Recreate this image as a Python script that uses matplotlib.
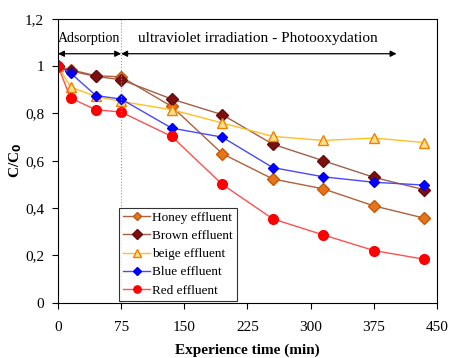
import matplotlib
matplotlib.use("Agg")
import matplotlib.pyplot as plt
from matplotlib.ticker import FuncFormatter

plt.rcParams['font.family'] = ['Liberation Serif', 'DejaVu Serif']

time = [0, 15, 45, 75, 135, 195, 255, 315, 375, 435]
honey = [1.0, 0.985, 0.96, 0.955, 0.83, 0.63, 0.523, 0.481, 0.409, 0.357]
brown = [1.0, 0.98, 0.957, 0.943, 0.861, 0.795, 0.67, 0.60, 0.53, 0.477]
beige = [1.0, 0.912, 0.872, 0.851, 0.816, 0.76, 0.703, 0.686, 0.696, 0.677]
blue = [1.0, 0.971, 0.876, 0.861, 0.738, 0.70, 0.571, 0.532, 0.509, 0.497]
red = [1.0, 0.865, 0.816, 0.806, 0.703, 0.50, 0.354, 0.286, 0.22, 0.183]

xticks = [0, 75, 150, 225, 300, 375, 450]
yticks = [0, 0.2, 0.4, 0.6, 0.8, 1.0, 1.2]

fig = plt.figure(figsize=(4.5, 3.58), dpi=100)
ax = fig.add_axes([58/450, 1 - 302.5/358, (437-58)/450, (302.5-19)/358])

ax.plot(time, honey, color='#B0603A', lw=1.0, marker='D', ms=6,
        mfc='#E8741A', mec='#C05A10', label='Honey effluent')
ax.plot(time, brown, color='#A0604A', lw=1.0, marker='D', ms=6.5,
        mfc='#7A1010', mec='#6A0A0A', label='Brown effluent')
ax.plot(time, beige, color='#FFC020', lw=1.0, marker='^', ms=7,
        mfc='#FFE08A', mec='#F08000', mew=1.0, label='beige effluent')
ax.plot(time, blue, color='#4848FF', lw=1.0, marker='D', ms=5.5,
        mfc='#0000FF', mec='#0000EE', label='Blue effluent')
ax.plot(time, red, color='#FF5050', lw=1.0, marker='o', ms=7,
        mfc='#FF0000', mec='#FF0000', label='Red effluent')

ax.set_xlim(0, 450)
ax.set_ylim(0, 1.2)
ax.set_xticks(xticks)
ax.set_yticks(yticks)

def yfmt(v, pos):
    s = ('%.1f' % v).rstrip('0').rstrip('.')
    return s.replace('.', ',')
ax.yaxis.set_major_formatter(FuncFormatter(yfmt))
ax.tick_params(axis='both', labelsize=11, direction='out', length=4, width=0.8)
ax.tick_params(axis='x', pad=9)
ax.tick_params(axis='y', pad=6)
for s in ax.spines.values():
    s.set_linewidth(0.8)

ax.axvline(75, color='#999999', lw=0.8, ls=':')

ax.annotate('', xy=(0, 1.053), xytext=(75, 1.053),
            arrowprops=dict(arrowstyle='<|-|>', color='black', lw=0.9,
                            shrinkA=0, shrinkB=0, mutation_scale=9))
ax.annotate('', xy=(75, 1.053), xytext=(402, 1.053),
            arrowprops=dict(arrowstyle='<|-|>', color='black', lw=0.9,
                            shrinkA=0, shrinkB=0, mutation_scale=9))
ax.text(37, 1.117, 'Adsorption', ha='center', va='center', fontsize=10)
ax.text(237, 1.117, 'ultraviolet irradiation - Photooxydation', ha='center',
        va='center', fontsize=11)

ax.set_xlabel('Experience time (min)', fontsize=11, fontweight='bold')
ax.set_ylabel('C/C$_\\mathbf{0}$', fontsize=11, fontweight='bold')
ax.xaxis.set_label_coords(0.5, -(350 - 302.5) / 283.5, transform=ax.transAxes)
ax.yaxis.set_label_coords(-(58 - 16) / 379, 0.5, transform=ax.transAxes)
ax.xaxis.label.set_va('center')
ax.yaxis.label.set_va('center')

leg = ax.legend(loc='lower left', bbox_to_anchor=(0.157, 0.0), fontsize=9.5,
                frameon=True, fancybox=False, edgecolor='black',
                borderpad=0.3, labelspacing=0.45, handlelength=2.0,
                handletextpad=0.2, borderaxespad=0.15, markerscale=0.75)
leg.get_frame().set_linewidth(0.8)

fig.savefig('out.png', dpi=100)
